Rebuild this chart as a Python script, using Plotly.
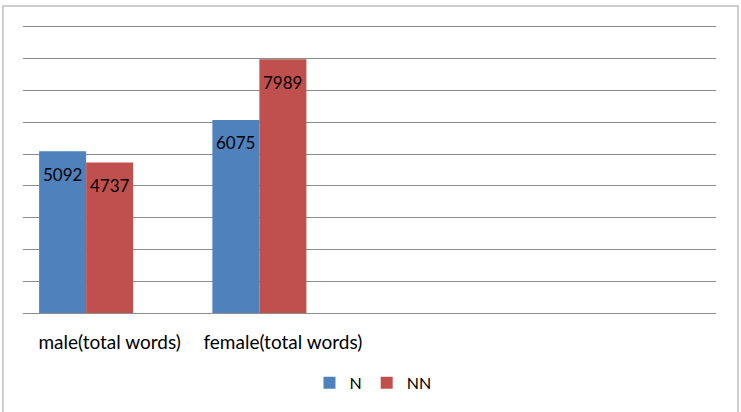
import plotly.graph_objects as go

categories = ["male(total words)", "female(total words)", "", ""]
series_names = ["N", "NN"]
n_values = [5092, 6075]
nn_values = [4737, 7989]

colors = {"N": "#4F81BD", "NN": "#C0504D"}
FONT = "Lato, Open Sans, sans-serif"

bar_w = 0.2714
offsets = [-0.407, -0.1356]  # third (empty) series slot follows

fig = go.Figure()
ann = []
for name, vals, off in zip(series_names, [n_values, nn_values], offsets):
    xs = list(range(len(vals)))
    fig.add_trace(go.Bar(
        x=xs, y=vals, name=name, width=bar_w, offset=off,
        marker=dict(color=colors[name], line=dict(width=0)),
        hoverinfo="skip",
    ))
    for xi, v in zip(xs, vals):
        ann.append(dict(x=xi + off + bar_w / 2, y=v, xref="x", yref="y",
                        text=str(v), showarrow=False, yshift=-23,
                        font=dict(family=FONT, size=17, color="#000000")))

fig.update_layout(
    width=741, height=412,
    margin=dict(l=23, r=25, t=27, b=97),
    paper_bgcolor="white", plot_bgcolor="white",
    barmode="overlay",
    font=dict(family=FONT, size=17, color="#000000"),
    showlegend=True,
    legend=dict(orientation="h", x=0.505, xanchor="center", y=-0.185, yanchor="top",
                font=dict(family=FONT, size=16, color="#000000"),
                itemwidth=30, tracegroupgap=0),
    annotations=ann,
    shapes=[dict(type="rect", xref="paper", yref="paper",
                 x0=-0.0289, x1=1.0317, y0=-0.40, y1=1.073,
                 line=dict(color="#BFBFBF", width=1.5), fillcolor="rgba(0,0,0,0)",
                 layer="below")],
)
fig.update_xaxes(
    range=[-0.5, len(categories) - 0.5],
    tickvals=list(range(len(categories))), ticktext=categories,
    showgrid=False, zeroline=False,
    showline=True, mirror=True, linecolor="#8C8C8C", linewidth=1.2,
    ticks="", ticklabelstandoff=12,
    tickfont=dict(family=FONT, size=19, color="#000000"),
)
fig.update_yaxes(
    range=[0, 9000], dtick=1000, showticklabels=False,
    showgrid=True, gridcolor="#8C8C8C", gridwidth=1.2, zeroline=False,
    ticks="",
)
fig.write_html("out.html")
